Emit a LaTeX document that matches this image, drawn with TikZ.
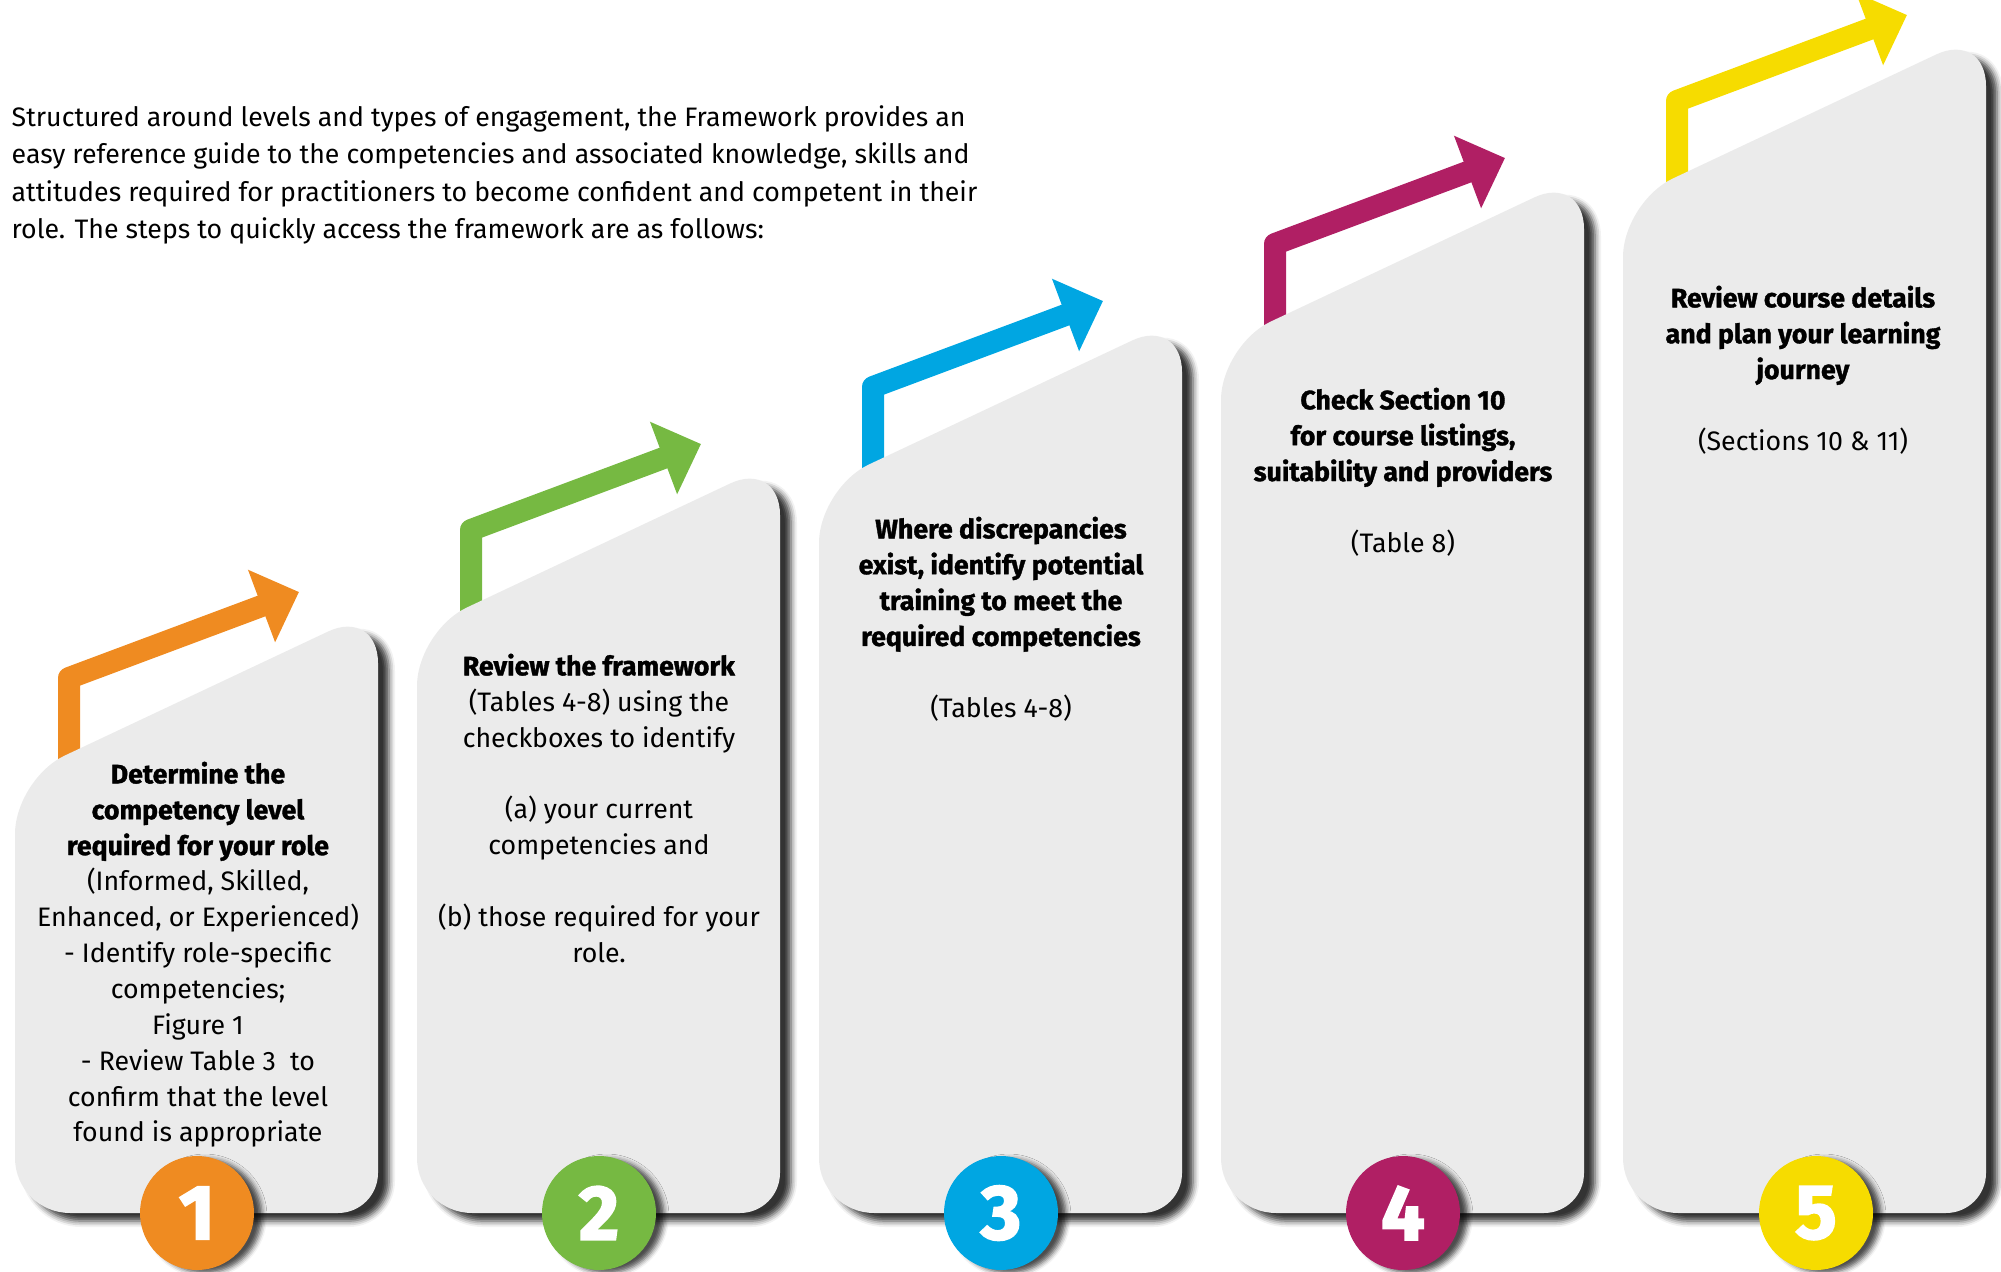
\documentclass[tikz,border=0pt]{standalone}
\usepackage{fontspec}
\setsansfont[BoldFeatures={FakeBold=1.3}]{Fira Sans}
\newfontfamily\badgefont[BoldFeatures={FakeBold=2.5}]{Fira Sans}
\usepackage{tikz}
\usetikzlibrary{arrows.meta,shadows.blur}
\definecolor{steporange}{RGB}{239,139,33}
\definecolor{stepgreen}{RGB}{118,185,66}
\definecolor{stepblue}{RGB}{0,166,226}
\definecolor{stepmagenta}{RGB}{176,31,100}
\definecolor{stepyellow}{RGB}{246,220,0}
\definecolor{cardgrey}{RGB}{235,235,235}

\begin{document}
\begin{tikzpicture}[
        x=0.1mm, y=-0.1mm,
        % Light grey step cards with a dark drop shadow to the lower right.
        card/.style={fill=cardgrey,
            blur shadow={shadow xshift=1.1mm, shadow yshift=-0.8mm,
                shadow opacity=80, shadow blur radius=0.6mm}},
        bendarrow/.style={draw=#1, line width=2.2mm, line join=round,
            -{Triangle[length=4mm, width=7.5mm]}},
        badge/.style={circle, fill=#1, minimum size=11.4mm, inner sep=0pt,
            text=white, font=\badgefont\bfseries\fontsize{22}{22}\selectfont,
            blur shadow={shadow xshift=0.8mm, shadow yshift=-0.3mm,
                shadow opacity=70, shadow blur radius=0.5mm}},
        steptext/.style={anchor=north, align=center, inner sep=0pt,
            font=\sffamily\fontsize{7.6}{10.2}\selectfont},
        intro/.style={anchor=north west, align=left, inner sep=0pt,
            font=\sffamily\fontsize{7.6}{10.6}\selectfont}
    ]
        \useasboundingbox (0,0) rectangle (2001,1272);

        % Intro paragraph
        \node[intro] (intro) at (11,105) {Structured around levels and types of engagement, the Framework provides an\\
            easy reference guide to the competencies and associated knowledge, skills and\\
            attitudes required for practitioners to become confident and competent in their\\
            role. The steps to quickly access the framework are as follows:};

        % Cards, arrows and numbered badges (each card sits higher than the last)
        \foreach \i/\n/\col/\bx in {0/1/steporange/197,1/2/stepgreen/197,2/3/stepblue/197,3/4/stepmagenta/197,4/5/stepyellow/208} {
            \pgfmathsetmacro{\ys}{143*\i+(\i>0)*5}
            \begin{scope}[shift={(402*\i,0)}]
                \draw[bendarrow=\col] (69,785-\ys) -- (69,678-\ys) -- (299,592-\ys);
                \path[card] (198,1213) [rounded corners=5.5mm] -- (15,1213) -- (15,779-\ys)
                    [rounded corners=5.5mm] -- (378,608-\ys)
                    [rounded corners=4mm] -- (378,1213)
                    [rounded corners=5.5mm] -- cycle;
                \node[badge=\col] (num\n) at (\bx,1213) {\n};
            \end{scope}
        }

        % Step texts
        \node[steptext] (txt1) at (198,761) {\textbf{Determine the}\\ \textbf{competency level}\\
            \textbf{required for your role}\\ (Informed, Skilled,\\ Enhanced, or Experienced)\\
            - Identify role-specific\\ competencies;\\ Figure 1\\ - Review Table 3\ \ to\\
            confirm that the level\\ found is appropriate};
        \node[steptext] (txt2) at (599,653) {\textbf{Review the framework}\\ (Tables 4-8) using the\\
            checkboxes to identify\\[10.2pt] (a) your current\\ competencies and\\[10.2pt]
            (b) those required for your\\ role.};
        \node[steptext] (txt3) at (1001,516) {\textbf{Where discrepancies}\\ \textbf{exist, identify potential}\\
            \textbf{training to meet the}\\ \textbf{required competencies}\\[10.2pt] (Tables 4-8)};
        \node[steptext] (txt4) at (1403,387) {\textbf{Check Section 10}\\ \textbf{for course listings,}\\
            \textbf{suitability and providers}\\[10.2pt] (Table 8)};
        \node[steptext] (txt5) at (1803,285) {\textbf{Review course details}\\ \textbf{and plan your learning}\\
            \textbf{journey}\\[10.2pt] (Sections 10 \& 11)};
    \end{tikzpicture}
\end{document}
